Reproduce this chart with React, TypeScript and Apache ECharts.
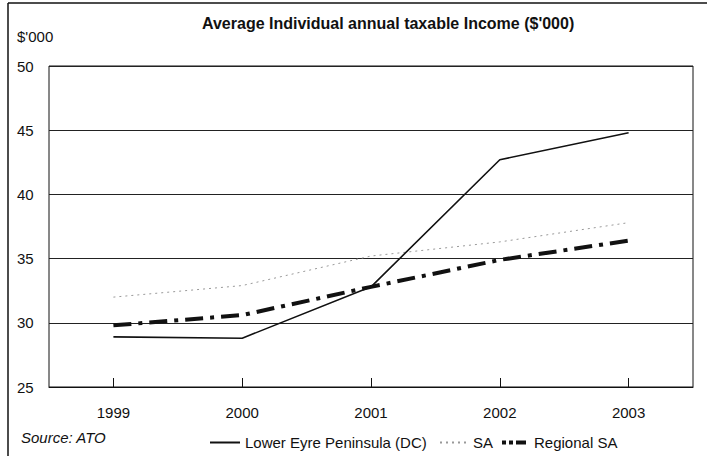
import React, { useEffect, useRef } from "react";
import * as echarts from "echarts";

const years = ["1999", "2000", "2001", "2002", "2003"];
const lowerEyre = [28.9, 28.8, 32.8, 42.7, 44.8];
const sa = [32.0, 32.9, 35.2, 36.3, 37.8];
const regionalSa = [29.8, 30.6, 32.8, 34.9, 36.4];
const seriesNames = ["Lower Eyre Peninsula (DC)", "SA", "Regional SA"];

const FONT = "'Liberation Sans', Arial, sans-serif";

export default function App() {
  const ref = useRef<HTMLDivElement>(null);
  useEffect(() => {
    if (!ref.current) return;
    const chart = echarts.init(ref.current, null, { renderer: "svg" });
    const legendBase = {
      top: 430,
      itemWidth: 30,
      itemHeight: 10,
      itemGap: 6,
      itemStyle: { opacity: 0 },
      textStyle: { fontFamily: FONT, fontSize: 15, color: "#111" },
    };
    chart.setOption({
      animation: false,
      backgroundColor: "#fff",
      title: {
        text: "Average Individual annual taxable Income ($'000)",
        left: 197,
        top: 10,
        textStyle: { fontFamily: FONT, fontSize: 16, fontWeight: "bold", color: "#111" },
      },
      grid: {
        left: 49,
        right: 14,
        top: 66,
        bottom: 69,
        show: true,
        borderColor: "#111",
        borderWidth: 1,
        containLabel: false,
      },
      legend: [
        { ...legendBase, left: 204, data: [seriesNames[0]] },
        { ...legendBase, left: 434, itemWidth: 28, data: [seriesNames[1]] },
        {
          ...legendBase,
          left: 495,
          itemWidth: 27,
          lineStyle: { type: [4, 3, 4, 3, 10, 3], width: 4 },
          data: [seriesNames[2]],
        },
      ],
      xAxis: {
        type: "category",
        data: years,
        boundaryGap: true,
        axisLine: { show: true, lineStyle: { color: "#111" } },
        axisTick: { show: true, inside: true, alignWithLabel: true, length: 9, lineStyle: { color: "#111" } },
        axisLabel: { fontFamily: FONT, fontSize: 15, color: "#111", margin: 18 },
        splitLine: { show: false },
      },
      yAxis: {
        type: "value",
        min: 25,
        max: 50,
        interval: 5,
        axisLine: { show: false },
        axisTick: { show: false },
        axisLabel: { fontFamily: FONT, fontSize: 15, color: "#111", align: "left", margin: 32 },
        splitLine: { show: true, lineStyle: { color: "#222", width: 1 } },
      },
      graphic: [
        { type: "line", shape: { x1: 8, y1: 3, x2: 8, y2: 456 }, style: { stroke: "#111", lineWidth: 1.5 } },
        { type: "line", shape: { x1: 8, y1: 3, x2: 707, y2: 3 }, style: { stroke: "#111", lineWidth: 1.5 } },
        {
          type: "text",
          left: 17,
          top: 29,
          style: { text: "$'000", font: `15px ${FONT}`, fill: "#111" },
        },
        {
          type: "text",
          left: 21,
          top: 430,
          style: { text: "Source: ATO", font: `italic 15px ${FONT}`, fill: "#111" },
        },
      ],
      series: [
        {
          name: seriesNames[0],
          type: "line",
          data: lowerEyre,
          symbol: "none",
          lineStyle: { color: "#111", width: 1.6, type: "solid" },
          itemStyle: { color: "#111" },
          z: 3,
        },
        {
          name: seriesNames[1],
          type: "line",
          data: sa,
          symbol: "none",
          lineStyle: { color: "#999", width: 1, type: [2, 4] },
          itemStyle: { color: "#999" },
          z: 2,
        },
        {
          name: seriesNames[2],
          type: "line",
          data: regionalSa,
          symbol: "none",
          lineStyle: { color: "#111", width: 4, type: [18, 7, 4, 7] },
          itemStyle: { color: "#111" },
          z: 2,
        },
      ],
    });
    return () => chart.dispose();
  }, []);
  return (
    <div
      ref={ref}
      style={{ position: "fixed", left: 0, top: 0, width: 707, height: 456, background: "#fff" }}
    />
  );
}
